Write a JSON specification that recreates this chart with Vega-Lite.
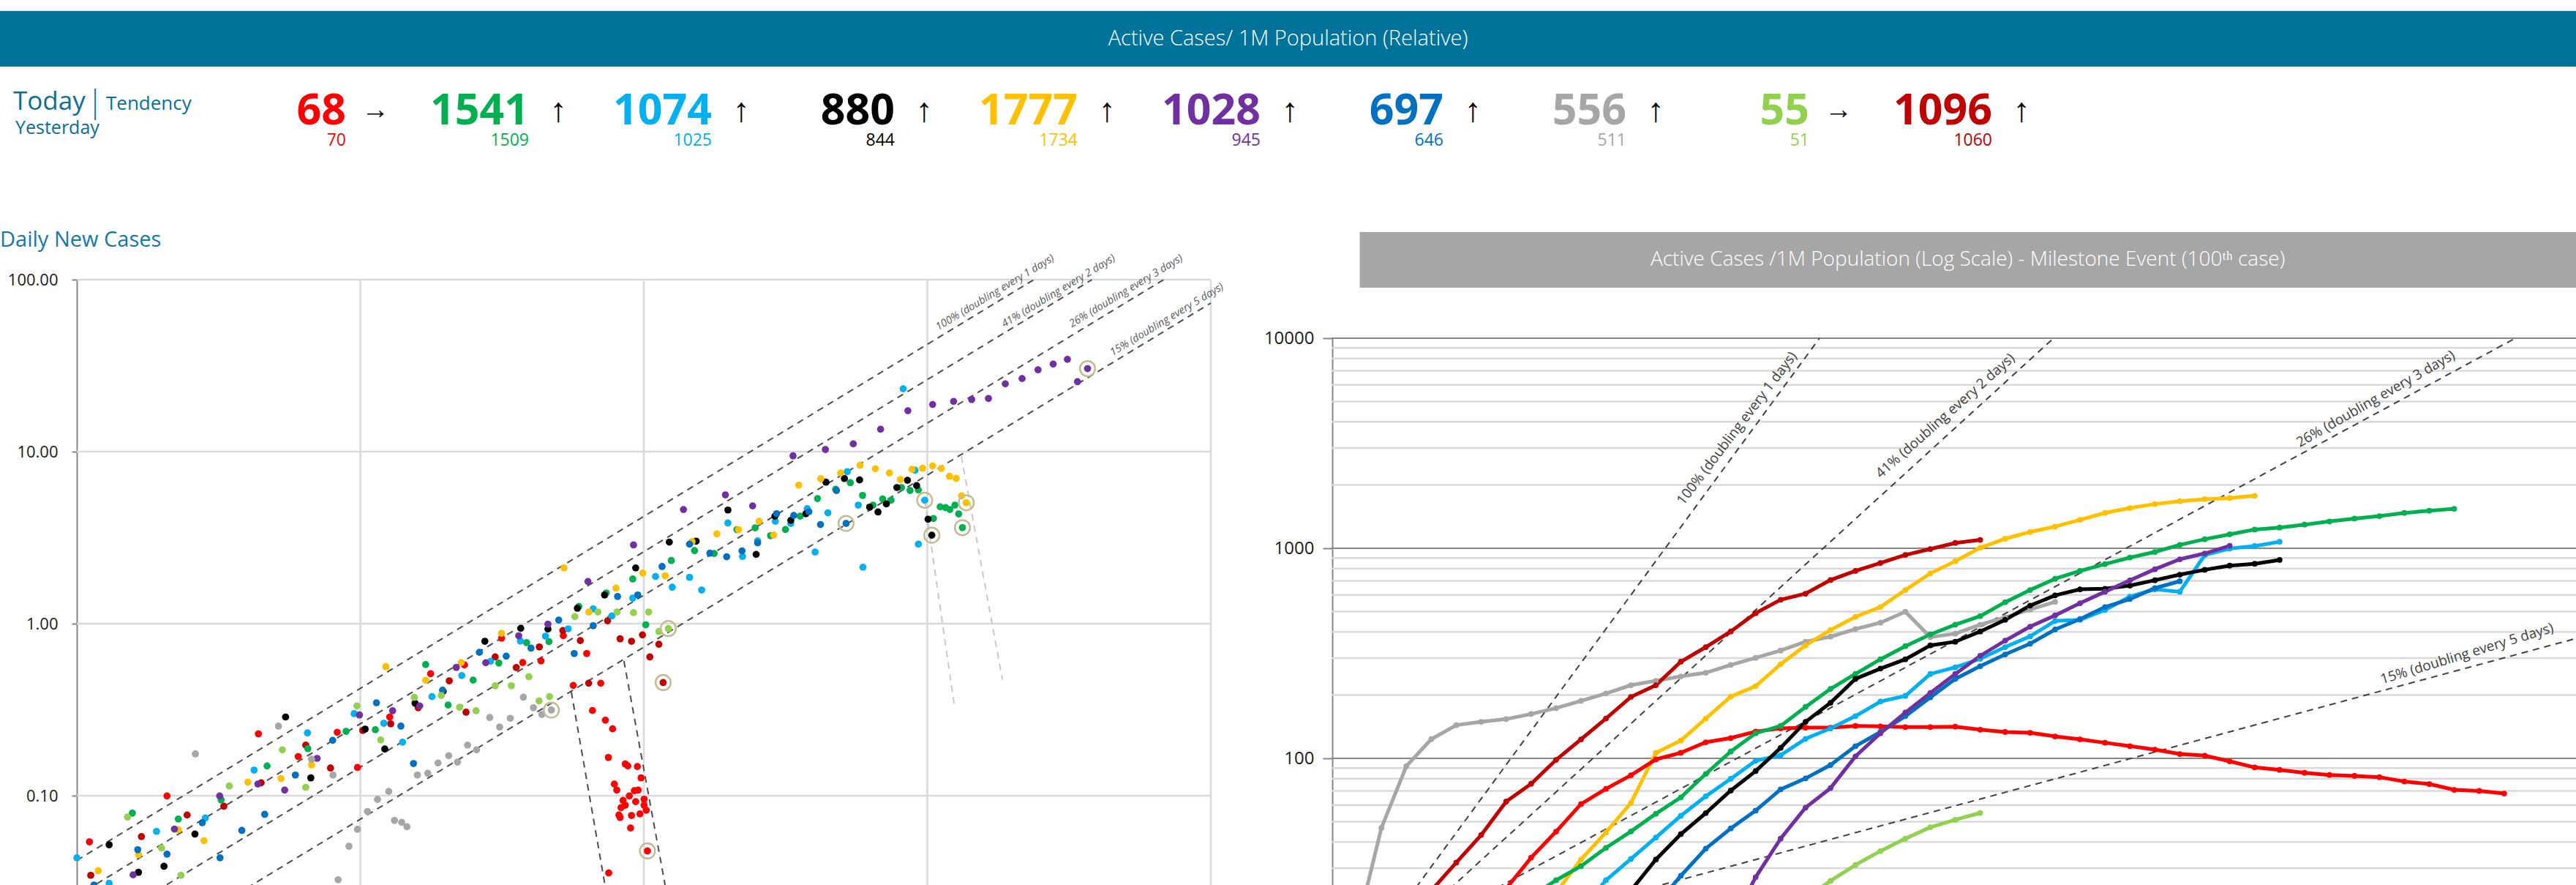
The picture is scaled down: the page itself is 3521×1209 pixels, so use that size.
{
"$schema": "https://vega.github.io/schema/vega-lite/v6.json",
"background": "white",
"padding": {"left": 0, "top": 15, "right": 0, "bottom": 0},
"spacing": 0,
"config": {"view": {"stroke": null}, "font": "Open Sans", "axis": {"grid": false, "labelFont": "Open Sans"}},
"datasets": {
"hdr": [
{"slot":0,"s":"Red","today":68,"yesterday":70,"trend":"flat"},
{"slot":1,"s":"Green","today":1541,"yesterday":1509,"trend":"up"},
{"slot":2,"s":"LightBlue","today":1074,"yesterday":1025,"trend":"up"},
{"slot":3,"s":"Black","today":880,"yesterday":844,"trend":"up"},
{"slot":4,"s":"Yellow","today":1777,"yesterday":1734,"trend":"up"},
{"slot":5,"s":"Purple","today":1028,"yesterday":945,"trend":"up"},
{"slot":6,"s":"Blue","today":697,"yesterday":646,"trend":"up"},
{"slot":7,"s":"Gray","today":556,"yesterday":511,"trend":"up"},
{"slot":8,"s":"LightGreen","today":55,"yesterday":51,"trend":"flat"},
{"slot":9,"s":"DarkRed","today":1096,"yesterday":1060,"trend":"up"}
],
"pts": [
{"s":"Red","x":1.108,"y":0.054},{"s":"Red","x":2.08,"y":0.0997},{"s":"Red","x":4.37,"y":0.229},{"s":"Red","x":6.04,"y":0.169},{"s":"Red","x":8.29,"y":0.234},{"s":"Red","x":9.77,"y":0.146},{"s":"Red","x":12.7,"y":0.287},{"s":"Red","x":17.7,"y":0.512},{"s":"Red","x":23.3,"y":0.576},{"s":"Red","x":31.5,"y":0.824},{"s":"Red","x":37.4,"y":0.595},{"s":"Red","x":43.4,"y":0.608},{"s":"Red","x":52.0,"y":0.852},{"s":"Red","x":56.4,"y":0.438},{"s":"Red","x":62.9,"y":0.671},{"s":"Red","x":70.5,"y":0.451},{"s":"Red","x":65.9,"y":0.313},{"s":"Red","x":73.2,"y":0.275},{"s":"Red","x":77.6,"y":0.245},{"s":"Red","x":75.0,"y":0.167},{"s":"Red","x":86.0,"y":0.153},{"s":"Red","x":87.8,"y":0.149},{"s":"Red","x":94.9,"y":0.148},{"s":"Red","x":97.8,"y":0.127},{"s":"Red","x":78.7,"y":0.117},{"s":"Red","x":80.3,"y":0.108},{"s":"Red","x":92.6,"y":0.107},{"s":"Red","x":95.5,"y":0.108},{"s":"Red","x":88.9,"y":0.0998},{"s":"Red","x":84.5,"y":0.094},{"s":"Red","x":93.6,"y":0.0925},{"s":"Red","x":100.2,"y":0.0955},{"s":"Red","x":86.0,"y":0.0881},{"s":"Red","x":83.1,"y":0.0853},{"s":"Red","x":100.2,"y":0.0881},{"s":"Red","x":102,"y":0.0825},{"s":"Red","x":81.7,"y":0.0773},{"s":"Red","x":82.5,"y":0.0748},{"s":"Red","x":90.5,"y":0.0768},{"s":"Red","x":96.9,"y":0.0785},{"s":"Red","x":89.8,"y":0.065},{"s":"Red","x":75.2,"y":0.0356},{"s":"Red","x":103,"y":0.0478,"latest":1},
{"s":"DarkRed","x":1.12,"y":0.0345},{"s":"DarkRed","x":1.69,"y":0.0579},{"s":"DarkRed","x":2.45,"y":0.0773},{"s":"DarkRed","x":3.30,"y":0.0869},{"s":"DarkRed","x":4.47,"y":0.119},{"s":"DarkRed","x":6.42,"y":0.197},{"s":"DarkRed","x":7.85,"y":0.145},{"s":"DarkRed","x":10.2,"y":0.240},{"s":"DarkRed","x":12.8,"y":0.262},{"s":"DarkRed","x":16.0,"y":0.325},{"s":"DarkRed","x":20.6,"y":0.466},{"s":"DarkRed","x":23.6,"y":0.306},{"s":"DarkRed","x":29.9,"y":0.641},{"s":"DarkRed","x":35.5,"y":0.556},{"s":"DarkRed","x":42.8,"y":0.733},{"s":"DarkRed","x":51.8,"y":0.912},{"s":"DarkRed","x":59.7,"y":0.798},{"s":"DarkRed","x":63.9,"y":0.451},{"s":"DarkRed","x":74.5,"y":1.04},{"s":"DarkRed","x":82.5,"y":0.817},{"s":"DarkRed","x":90.5,"y":0.791},{"s":"DarkRed","x":98.9,"y":0.861},{"s":"DarkRed","x":105,"y":0.641},{"s":"DarkRed","x":113,"y":0.760},{"s":"DarkRed","x":117,"y":0.455,"latest":1},
{"s":"Green","x":1.57,"y":0.0793},{"s":"Green","x":2.28,"y":0.0733},{"s":"Green","x":3.23,"y":0.0946},{"s":"Green","x":4.69,"y":0.149},{"s":"Green","x":6.53,"y":0.188},{"s":"Green","x":8.91,"y":0.237},{"s":"Green","x":11.3,"y":0.242},{"s":"Green","x":17.0,"y":0.579},{"s":"Green","x":20.4,"y":0.337},{"s":"Green","x":25.0,"y":0.470},{"s":"Green","x":30.8,"y":0.591},{"s":"Green","x":38.6,"y":0.776},{"s":"Green","x":46.3,"y":0.786},{"s":"Green","x":59.0,"y":1.26},{"s":"Green","x":73.7,"y":1.51},{"s":"Green","x":101.6,"y":0.986},{"s":"Green","x":91.4,"y":1.82},{"s":"Green","x":125,"y":2.33},{"s":"Green","x":151,"y":2.66},{"s":"Green","x":177,"y":2.56},{"s":"Green","x":213,"y":3.52},{"s":"Green","x":247,"y":3.61},{"s":"Green","x":280,"y":3.25},{"s":"Green","x":316,"y":3.53},{"s":"Green","x":356,"y":4.22},{"s":"Green","x":410,"y":5.34},{"s":"Green","x":475,"y":6.05},{"s":"Green","x":535,"y":6.60},{"s":"Green","x":591,"y":5.57},{"s":"Green","x":643,"y":4.89},{"s":"Green","x":696,"y":5.31},{"s":"Green","x":745,"y":5.22},{"s":"Green","x":811,"y":6.19},{"s":"Green","x":869,"y":5.95},{"s":"Green","x":930,"y":5.99},{"s":"Green","x":1051,"y":4.09},{"s":"Green","x":1110,"y":4.78},{"s":"Green","x":1160,"y":4.73},{"s":"Green","x":1201,"y":4.61},{"s":"Green","x":1251,"y":4.89},{"s":"Green","x":1290,"y":4.35},{"s":"Green","x":1330,"y":3.62,"latest":1},
{"s":"LightBlue","x":1.00,"y":0.0436},{"s":"LightBlue","x":1.30,"y":0.031},{"s":"LightBlue","x":1.91,"y":0.0621},{"s":"LightBlue","x":2.84,"y":0.0743},{"s":"LightBlue","x":4.22,"y":0.141},{"s":"LightBlue","x":6.51,"y":0.232},{"s":"LightBlue","x":9.51,"y":0.300},{"s":"LightBlue","x":12.1,"y":0.264},{"s":"LightBlue","x":14.1,"y":0.205},{"s":"LightBlue","x":17.9,"y":0.377},{"s":"LightBlue","x":22.8,"y":0.500},{"s":"LightBlue","x":28.8,"y":0.605},{"s":"LightBlue","x":36.7,"y":0.793},{"s":"LightBlue","x":45.0,"y":0.847},{"s":"LightBlue","x":54.1,"y":0.934},{"s":"LightBlue","x":66.3,"y":1.22},{"s":"LightBlue","x":77.1,"y":1.11},{"s":"LightBlue","x":91.4,"y":1.41},{"s":"LightBlue","x":110,"y":1.88},{"s":"LightBlue","x":126,"y":1.63},{"s":"LightBlue","x":145,"y":1.86},{"s":"LightBlue","x":160,"y":1.57},{"s":"LightBlue","x":198,"y":3.85},{"s":"LightBlue","x":223,"y":2.46},{"s":"LightBlue","x":252,"y":3.03},{"s":"LightBlue","x":291,"y":3.94},{"s":"LightBlue","x":330,"y":3.83},{"s":"LightBlue","x":402,"y":2.61},{"s":"LightBlue","x":446,"y":4.41},{"s":"LightBlue","x":593,"y":2.13},{"s":"LightBlue","x":930,"y":2.90},{"s":"LightBlue","x":377,"y":4.66},{"s":"LightBlue","x":522,"y":7.65},{"s":"LightBlue","x":571,"y":4.89},{"s":"LightBlue","x":822,"y":23.2},{"s":"LightBlue","x":905,"y":7.80},{"s":"LightBlue","x":979,"y":5.22,"latest":1},
{"s":"Black","x":1.30,"y":0.0519},{"s":"Black","x":1.65,"y":0.0359},{"s":"Black","x":2.03,"y":0.0389},{"s":"Black","x":2.61,"y":0.0599},{"s":"Black","x":5.45,"y":0.287},{"s":"Black","x":6.69,"y":0.127},{"s":"Black","x":10.4,"y":0.244},{"s":"Black","x":12.2,"y":0.187},{"s":"Black","x":15.6,"y":0.345},{"s":"Black","x":19.6,"y":0.405},{"s":"Black","x":27.5,"y":0.791},{"s":"Black","x":36.8,"y":0.940},{"s":"Black","x":45.9,"y":0.931},{"s":"Black","x":58.3,"y":1.23},{"s":"Black","x":72.7,"y":1.47},{"s":"Black","x":93.6,"y":2.11},{"s":"Black","x":123,"y":2.98},{"s":"Black","x":153,"y":3.02},{"s":"Black","x":249,"y":2.53},{"s":"Black","x":290,"y":4.22},{"s":"Black","x":330,"y":3.99},{"s":"Black","x":373,"y":4.36},{"s":"Black","x":198,"y":4.58},{"s":"Black","x":439,"y":6.65},{"s":"Black","x":510,"y":6.98},{"s":"Black","x":577,"y":6.85},{"s":"Black","x":626,"y":4.76},{"s":"Black","x":670,"y":4.46},{"s":"Black","x":717,"y":4.97},{"s":"Black","x":781,"y":6.19},{"s":"Black","x":851,"y":6.82},{"s":"Black","x":917,"y":6.35},{"s":"Black","x":1006,"y":4.05},{"s":"Black","x":1037,"y":3.27,"latest":1},
{"s":"Yellow","x":1.19,"y":0.0367},{"s":"Yellow","x":1.65,"y":0.0455},{"s":"Yellow","x":2.28,"y":0.0635},{"s":"Yellow","x":2.81,"y":0.0548},{"s":"Yellow","x":4.01,"y":0.120},{"s":"Yellow","x":5.25,"y":0.126},{"s":"Yellow","x":6.73,"y":0.151},{"s":"Yellow","x":12.3,"y":0.563},{"s":"Yellow","x":17.0,"y":0.469},{"s":"Yellow","x":22.7,"y":0.595},{"s":"Yellow","x":31.5,"y":0.880},{"s":"Yellow","x":52.3,"y":2.11},{"s":"Yellow","x":64.0,"y":1.17},{"s":"Yellow","x":79.8,"y":1.61},{"s":"Yellow","x":99.2,"y":1.97},{"s":"Yellow","x":119,"y":1.90},{"s":"Yellow","x":148,"y":3.00},{"s":"Yellow","x":181,"y":3.33},{"s":"Yellow","x":216,"y":3.52},{"s":"Yellow","x":255,"y":3.94},{"s":"Yellow","x":287,"y":3.28},{"s":"Yellow","x":352,"y":6.39},{"s":"Yellow","x":421,"y":6.96},{"s":"Yellow","x":495,"y":7.52},{"s":"Yellow","x":579,"y":8.33},{"s":"Yellow","x":656,"y":7.96},{"s":"Yellow","x":735,"y":7.52},{"s":"Yellow","x":803,"y":6.89},{"s":"Yellow","x":883,"y":7.90},{"s":"Yellow","x":962,"y":8.01},{"s":"Yellow","x":1044,"y":8.25},{"s":"Yellow","x":1121,"y":7.98},{"s":"Yellow","x":1197,"y":7.19},{"s":"Yellow","x":1264,"y":7.00},{"s":"Yellow","x":1321,"y":5.54},{"s":"Yellow","x":1372,"y":5.05,"latest":1},
{"s":"Purple","x":1.58,"y":0.0347},{"s":"Purple","x":2.21,"y":0.064},{"s":"Purple","x":3.19,"y":0.0997},{"s":"Purple","x":4.35,"y":0.117},{"s":"Purple","x":5.41,"y":0.108},{"s":"Purple","x":7.04,"y":0.165},{"s":"Purple","x":9.93,"y":0.295},{"s":"Purple","x":13.0,"y":0.312},{"s":"Purple","x":16.2,"y":0.333},{"s":"Purple","x":21.8,"y":0.557},{"s":"Purple","x":27.7,"y":0.593},{"s":"Purple","x":36.2,"y":0.851},{"s":"Purple","x":45.9,"y":0.994},{"s":"Purple","x":63.5,"y":1.76},{"s":"Purple","x":92.0,"y":2.87},{"s":"Purple","x":138,"y":4.61},{"s":"Purple","x":194,"y":5.61},{"s":"Purple","x":242,"y":4.84},{"s":"Purple","x":336,"y":9.46},{"s":"Purple","x":437,"y":10.3},{"s":"Purple","x":548,"y":11.1},{"s":"Purple","x":684,"y":13.5},{"s":"Purple","x":854,"y":17.3},{"s":"Purple","x":1044,"y":18.8},{"s":"Purple","x":1238,"y":19.6},{"s":"Purple","x":1434,"y":20.1},{"s":"Purple","x":1643,"y":20.4},{"s":"Purple","x":1884,"y":24.8},{"s":"Purple","x":2159,"y":26.6},{"s":"Purple","x":2458,"y":29.9},{"s":"Purple","x":2779,"y":32.3},{"s":"Purple","x":3120,"y":34.4},{"s":"Purple","x":3387,"y":25.5},{"s":"Purple","x":3675,"y":30.4,"latest":1},
{"s":"Blue","x":1.15,"y":0.0303},{"s":"Blue","x":1.64,"y":0.0486},{"s":"Blue","x":2.08,"y":0.0458},{"s":"Blue","x":2.77,"y":0.0697},{"s":"Blue","x":3.20,"y":0.0436},{"s":"Blue","x":3.82,"y":0.0629},{"s":"Blue","x":4.60,"y":0.078},{"s":"Blue","x":5.90,"y":0.132},{"s":"Blue","x":7.99,"y":0.210},{"s":"Blue","x":11.4,"y":0.347},{"s":"Blue","x":13.9,"y":0.254},{"s":"Blue","x":15.4,"y":0.154},{"s":"Blue","x":19.5,"y":0.411},{"s":"Blue","x":26.3,"y":0.682},{"s":"Blue","x":32.7,"y":0.648},{"s":"Blue","x":40.0,"y":0.721},{"s":"Blue","x":50.1,"y":1.05},{"s":"Blue","x":56.8,"y":0.671},{"s":"Blue","x":66.3,"y":0.974},{"s":"Blue","x":80.8,"y":1.44},{"s":"Blue","x":95.2,"y":1.47},{"s":"Blue","x":116,"y":2.15},{"s":"Blue","x":145,"y":2.90},{"s":"Blue","x":171,"y":2.57},{"s":"Blue","x":196,"y":2.45},{"s":"Blue","x":222,"y":2.65},{"s":"Blue","x":252,"y":2.95},{"s":"Blue","x":294,"y":4.36},{"s":"Blue","x":338,"y":4.26},{"s":"Blue","x":382,"y":4.48},{"s":"Blue","x":420,"y":3.77},{"s":"Blue","x":478,"y":5.95},{"s":"Blue","x":517,"y":3.83,"latest":1},
{"s":"Gray","x":2.62,"y":0.175},{"s":"Gray","x":5.14,"y":0.254},{"s":"Gray","x":6.73,"y":0.163},{"s":"Gray","x":8.01,"y":0.132},{"s":"Gray","x":8.35,"y":0.0325},{"s":"Gray","x":9.12,"y":0.0509},{"s":"Gray","x":9.77,"y":0.0639},{"s":"Gray","x":10.6,"y":0.0811},{"s":"Gray","x":11.5,"y":0.0952},{"s":"Gray","x":12.6,"y":0.106},{"s":"Gray","x":13.2,"y":0.0719},{"s":"Gray","x":14.0,"y":0.0701},{"s":"Gray","x":14.6,"y":0.0661},{"s":"Gray","x":15.9,"y":0.132},{"s":"Gray","x":17.3,"y":0.135},{"s":"Gray","x":18.8,"y":0.155},{"s":"Gray","x":20.5,"y":0.171},{"s":"Gray","x":22.0,"y":0.157},{"s":"Gray","x":23.9,"y":0.197},{"s":"Gray","x":25.7,"y":0.185},{"s":"Gray","x":28.6,"y":0.285},{"s":"Gray","x":31.0,"y":0.251},{"s":"Gray","x":33.8,"y":0.282},{"s":"Gray","x":37.6,"y":0.374},{"s":"Gray","x":40.8,"y":0.325},{"s":"Gray","x":43.7,"y":0.297},{"s":"Gray","x":47.2,"y":0.315,"latest":1},
{"s":"LightGreen","x":1.51,"y":0.0752},{"s":"LightGreen","x":1.99,"y":0.0497},{"s":"LightGreen","x":2.33,"y":0.0345},{"s":"LightGreen","x":3.45,"y":0.114},{"s":"LightGreen","x":5.31,"y":0.185},{"s":"LightGreen","x":6.42,"y":0.112},{"s":"LightGreen","x":9.73,"y":0.333},{"s":"LightGreen","x":11.8,"y":0.211},{"s":"LightGreen","x":15.5,"y":0.373},{"s":"LightGreen","x":19.3,"y":0.383},{"s":"LightGreen","x":22.4,"y":0.327},{"s":"LightGreen","x":25.6,"y":0.312},{"s":"LightGreen","x":29.9,"y":0.436},{"s":"LightGreen","x":34.1,"y":0.436},{"s":"LightGreen","x":39.3,"y":0.492},{"s":"LightGreen","x":42.7,"y":0.356},{"s":"LightGreen","x":46.5,"y":0.377},{"s":"LightGreen","x":57.1,"y":1.10},{"s":"LightGreen","x":68.9,"y":1.17},{"s":"LightGreen","x":80.5,"y":1.17},{"s":"LightGreen","x":92.0,"y":1.16},{"s":"LightGreen","x":104,"y":1.17},{"s":"LightGreen","x":113,"y":0.901},{"s":"LightGreen","x":122,"y":0.937,"latest":1}
],
"act": [
{"s":"Gray","d":1,"v":15.2},{"s":"Gray","d":2,"v":46.7},{"s":"Gray","d":3,"v":91.8},{"s":"Gray","d":4,"v":123.5},{"s":"Gray","d":5,"v":143.9},{"s":"Gray","d":6,"v":149.3},{"s":"Gray","d":7,"v":153.8},{"s":"Gray","d":8,"v":162.7},{"s":"Gray","d":9,"v":173.4},{"s":"Gray","d":10,"v":187.9},{"s":"Gray","d":11,"v":203.7},{"s":"Gray","d":12,"v":223},{"s":"Gray","d":13,"v":234},{"s":"Gray","d":14,"v":245.6},{"s":"Gray","d":15,"v":255.6},{"s":"Gray","d":16,"v":278.5},{"s":"Gray","d":17,"v":300.9},{"s":"Gray","d":18,"v":326.1},{"s":"Gray","d":19,"v":359},{"s":"Gray","d":20,"v":379.7},{"s":"Gray","d":21,"v":412.6},{"s":"Gray","d":22,"v":442.3},{"s":"Gray","d":23,"v":498.9},{"s":"Gray","d":24,"v":377.7},{"s":"Gray","d":25,"v":392.2},{"s":"Gray","d":26,"v":433},{"s":"Gray","d":27,"v":469},{"s":"Gray","d":28,"v":511},{"s":"Gray","d":29,"v":556},
{"s":"DarkRed","d":4,"v":23.5},{"s":"DarkRed","d":5,"v":31.9},{"s":"DarkRed","d":6,"v":43.2},{"s":"DarkRed","d":7,"v":62.3},{"s":"DarkRed","d":8,"v":75.7},{"s":"DarkRed","d":9,"v":98.4},{"s":"DarkRed","d":10,"v":123.2},{"s":"DarkRed","d":11,"v":154.7},{"s":"DarkRed","d":12,"v":196.2},{"s":"DarkRed","d":13,"v":223},{"s":"DarkRed","d":14,"v":288.4},{"s":"DarkRed","d":15,"v":338.5},{"s":"DarkRed","d":16,"v":401.8},{"s":"DarkRed","d":17,"v":491},{"s":"DarkRed","d":18,"v":568.7},{"s":"DarkRed","d":19,"v":608},{"s":"DarkRed","d":20,"v":706},{"s":"DarkRed","d":21,"v":780},{"s":"DarkRed","d":22,"v":851.6},{"s":"DarkRed","d":23,"v":930},{"s":"DarkRed","d":24,"v":992},{"s":"DarkRed","d":25,"v":1060},{"s":"DarkRed","d":26,"v":1096},
{"s":"Yellow","d":9,"v":23},{"s":"Yellow","d":10,"v":33},{"s":"Yellow","d":11,"v":44.4},{"s":"Yellow","d":12,"v":61.4},{"s":"Yellow","d":13,"v":106.3},{"s":"Yellow","d":14,"v":121.6},{"s":"Yellow","d":15,"v":154.7},{"s":"Yellow","d":16,"v":196.7},{"s":"Yellow","d":17,"v":220.7},{"s":"Yellow","d":18,"v":280.8},{"s":"Yellow","d":19,"v":344.9},{"s":"Yellow","d":20,"v":408.3},{"s":"Yellow","d":21,"v":471.6},{"s":"Yellow","d":22,"v":525},{"s":"Yellow","d":23,"v":633},{"s":"Yellow","d":24,"v":759},{"s":"Yellow","d":25,"v":868},{"s":"Yellow","d":26,"v":1005},{"s":"Yellow","d":27,"v":1110},{"s":"Yellow","d":28,"v":1196},{"s":"Yellow","d":29,"v":1268},{"s":"Yellow","d":30,"v":1367},{"s":"Yellow","d":31,"v":1473},{"s":"Yellow","d":32,"v":1554},{"s":"Yellow","d":33,"v":1623},{"s":"Yellow","d":34,"v":1675},{"s":"Yellow","d":35,"v":1712},{"s":"Yellow","d":36,"v":1734},{"s":"Yellow","d":37,"v":1777},
{"s":"Red","d":7,"v":24},{"s":"Red","d":8,"v":33.7},{"s":"Red","d":9,"v":44.8},{"s":"Red","d":10,"v":60.6},{"s":"Red","d":11,"v":71.6},{"s":"Red","d":12,"v":83.1},{"s":"Red","d":13,"v":98.9},{"s":"Red","d":14,"v":106.3},{"s":"Red","d":15,"v":119.3},{"s":"Red","d":16,"v":124.9},{"s":"Red","d":17,"v":134.2},{"s":"Red","d":18,"v":138.9},{"s":"Red","d":19,"v":140},{"s":"Red","d":20,"v":140},{"s":"Red","d":21,"v":142.7},{"s":"Red","d":22,"v":142},{"s":"Red","d":23,"v":140.8},{"s":"Red","d":24,"v":140.8},{"s":"Red","d":25,"v":141.6},{"s":"Red","d":26,"v":137},{"s":"Red","d":27,"v":133.5},{"s":"Red","d":28,"v":132.4},{"s":"Red","d":29,"v":127.2},{"s":"Red","d":30,"v":123.2},{"s":"Red","d":31,"v":118.7},{"s":"Red","d":32,"v":114.3},{"s":"Red","d":33,"v":110.1},{"s":"Red","d":34,"v":104.9},{"s":"Red","d":35,"v":103},{"s":"Red","d":36,"v":96.8},{"s":"Red","d":37,"v":90.6},{"s":"Red","d":38,"v":88.2},{"s":"Red","d":39,"v":85.4},{"s":"Red","d":40,"v":83.4},{"s":"Red","d":41,"v":82.5},{"s":"Red","d":42,"v":81.4},{"s":"Red","d":43,"v":77.6},{"s":"Red","d":44,"v":75.5},{"s":"Red","d":45,"v":70.8},{"s":"Red","d":46,"v":70},{"s":"Red","d":47,"v":68},
{"s":"Green","d":8,"v":22},{"s":"Green","d":9,"v":26.3},{"s":"Green","d":10,"v":30.7},{"s":"Green","d":11,"v":37.5},{"s":"Green","d":12,"v":44.9},{"s":"Green","d":13,"v":54.5},{"s":"Green","d":14,"v":65.2},{"s":"Green","d":15,"v":84.3},{"s":"Green","d":16,"v":107.8},{"s":"Green","d":17,"v":131.7},{"s":"Green","d":18,"v":142.7},{"s":"Green","d":19,"v":175.8},{"s":"Green","d":20,"v":214.3},{"s":"Green","d":21,"v":252.3},{"s":"Green","d":22,"v":296.1},{"s":"Green","d":23,"v":342.1},{"s":"Green","d":24,"v":389},{"s":"Green","d":25,"v":433},{"s":"Green","d":26,"v":475.4},{"s":"Green","d":27,"v":553.7},{"s":"Green","d":28,"v":633},{"s":"Green","d":29,"v":715.8},{"s":"Green","d":30,"v":780},{"s":"Green","d":31,"v":840.4},{"s":"Green","d":32,"v":903},{"s":"Green","d":33,"v":960.5},{"s":"Green","d":34,"v":1037.9},{"s":"Green","d":35,"v":1104},{"s":"Green","d":36,"v":1165},{"s":"Green","d":37,"v":1228},{"s":"Green","d":38,"v":1255},{"s":"Green","d":39,"v":1296},{"s":"Green","d":40,"v":1342},{"s":"Green","d":41,"v":1385},{"s":"Green","d":42,"v":1423},{"s":"Green","d":43,"v":1473},{"s":"Green","d":44,"v":1509},{"s":"Green","d":45,"v":1541},
{"s":"LightBlue","d":10,"v":19},{"s":"LightBlue","d":11,"v":26.3},{"s":"LightBlue","d":12,"v":33.2},{"s":"LightBlue","d":13,"v":42},{"s":"LightBlue","d":14,"v":53.3},{"s":"LightBlue","d":15,"v":66},{"s":"LightBlue","d":16,"v":79.9},{"s":"LightBlue","d":17,"v":97.4},{"s":"LightBlue","d":18,"v":103.5},{"s":"LightBlue","d":19,"v":123.9},{"s":"LightBlue","d":20,"v":138.9},{"s":"LightBlue","d":21,"v":158.8},{"s":"LightBlue","d":22,"v":186.5},{"s":"LightBlue","d":23,"v":198.3},{"s":"LightBlue","d":24,"v":252.3},{"s":"LightBlue","d":25,"v":271.2},{"s":"LightBlue","d":26,"v":297.7},{"s":"LightBlue","d":27,"v":338.5},{"s":"LightBlue","d":28,"v":380.7},{"s":"LightBlue","d":29,"v":450.7},{"s":"LightBlue","d":30,"v":456.7},{"s":"LightBlue","d":31,"v":508.3},{"s":"LightBlue","d":32,"v":588.8},{"s":"LightBlue","d":33,"v":638},{"s":"LightBlue","d":34,"v":621},{"s":"LightBlue","d":35,"v":927.7},{"s":"LightBlue","d":36,"v":997},{"s":"LightBlue","d":37,"v":1025},{"s":"LightBlue","d":38,"v":1074},
{"s":"Black","d":12,"v":23.5},{"s":"Black","d":13,"v":33},{"s":"Black","d":14,"v":43.6},{"s":"Black","d":15,"v":54.9},{"s":"Black","d":16,"v":70.3},{"s":"Black","d":17,"v":87},{"s":"Black","d":18,"v":112.2},{"s":"Black","d":19,"v":149.3},{"s":"Black","d":20,"v":184},{"s":"Black","d":21,"v":239},{"s":"Black","d":22,"v":267.6},{"s":"Black","d":23,"v":296.1},{"s":"Black","d":24,"v":344.9},{"s":"Black","d":25,"v":359},{"s":"Black","d":26,"v":401.7},{"s":"Black","d":27,"v":456.7},{"s":"Black","d":28,"v":533.4},{"s":"Black","d":29,"v":596.9},{"s":"Black","d":30,"v":638},{"s":"Black","d":31,"v":641.6},{"s":"Black","d":32,"v":664},{"s":"Black","d":33,"v":704.4},{"s":"Black","d":34,"v":749},{"s":"Black","d":35,"v":790},{"s":"Black","d":36,"v":827},{"s":"Black","d":37,"v":844},{"s":"Black","d":38,"v":880},
{"s":"Blue","d":13,"v":20},{"s":"Blue","d":14,"v":27.6},{"s":"Blue","d":15,"v":37.2},{"s":"Blue","d":16,"v":46.4},{"s":"Blue","d":17,"v":56.4},{"s":"Blue","d":18,"v":71.2},{"s":"Blue","d":19,"v":80.3},{"s":"Blue","d":20,"v":93},{"s":"Blue","d":21,"v":114.3},{"s":"Blue","d":22,"v":133.5},{"s":"Blue","d":23,"v":158.8},{"s":"Blue","d":24,"v":195.1},{"s":"Blue","d":25,"v":239},{"s":"Blue","d":26,"v":274.8},{"s":"Blue","d":27,"v":312.4},{"s":"Blue","d":28,"v":351.4},{"s":"Blue","d":29,"v":410.5},{"s":"Blue","d":30,"v":460.4},{"s":"Blue","d":31,"v":525},{"s":"Blue","d":32,"v":573.4},{"s":"Blue","d":33,"v":646},{"s":"Blue","d":34,"v":697},
{"s":"Purple","d":16,"v":16},{"s":"Purple","d":17,"v":27.2},{"s":"Purple","d":18,"v":41.5},{"s":"Purple","d":19,"v":58.3},{"s":"Purple","d":20,"v":72.2},{"s":"Purple","d":21,"v":102.2},{"s":"Purple","d":22,"v":131.7},{"s":"Purple","d":23,"v":165.3},{"s":"Purple","d":24,"v":204.8},{"s":"Purple","d":25,"v":252.3},{"s":"Purple","d":26,"v":307.5},{"s":"Purple","d":27,"v":363.8},{"s":"Purple","d":28,"v":423.8},{"s":"Purple","d":29,"v":479.3},{"s":"Purple","d":30,"v":547.7},{"s":"Purple","d":31,"v":621},{"s":"Purple","d":32,"v":704},{"s":"Purple","d":33,"v":794.5},{"s":"Purple","d":34,"v":886.6},{"s":"Purple","d":35,"v":945},{"s":"Purple","d":36,"v":1028},
{"s":"LightGreen","d":19,"v":21.5},{"s":"LightGreen","d":20,"v":26.1},{"s":"LightGreen","d":21,"v":31.1},{"s":"LightGreen","d":22,"v":36.2},{"s":"LightGreen","d":23,"v":41.5},{"s":"LightGreen","d":24,"v":47},{"s":"LightGreen","d":25,"v":51},{"s":"LightGreen","d":26,"v":55}
]
},
"vconcat": [
{
"width": 3521, "height": 76,
"view": {"fill": "#00739A", "stroke": null},
"data": {"values": [{"t": "Active Cases/ 1M Population (Relative)"}]},
"mark": {"type": "text", "color": "white", "fontSize": 29, "fontWeight": 300, "font": "Open Sans", "baseline": "middle"},
"encoding": {"text": {"field": "t", "type": "nominal"}}
},
{
"width": 3521, "height": 139,
"layer": [
{"data": {"name": "hdr"},
 "mark": {"type": "text", "align": "right", "baseline": "alphabetic", "dy": 9.5, "fontSize": 59, "fontWeight": "bold", "font": "Open Sans"},
 "encoding": {"x": {"field": "slot", "type": "quantitative", "scale": {"domain": [-1.892, 12.192], "nice": false, "zero": false}, "axis": null},
   "text": {"field": "today", "type": "quantitative", "format": "d"},
   "color": {"field": "s", "type": "nominal", "legend": null, "scale": {"domain": ["Red","Green","LightBlue","Black","Yellow","Purple","Blue","Gray","LightGreen","DarkRed"], "range": ["#FF0000","#00B050","#00B0F0","#000000","#FFC000","#7030A0","#0070C0","#A6A6A6","#92D050","#C00000"]}}}},
{"data": {"name": "hdr"},
 "mark": {"type": "text", "align": "right", "baseline": "alphabetic", "dy": 38, "fontSize": 23, "font": "Open Sans"},
 "encoding": {"x": {"field": "slot", "type": "quantitative", "scale": {"domain": [-1.892, 12.192], "nice": false, "zero": false}, "axis": null},
   "text": {"field": "yesterday", "type": "quantitative", "format": "d"},
   "color": {"field": "s", "type": "nominal", "legend": null}}},
{"data": {"name": "hdr"},
 "transform": [{"filter": "datum.trend == 'up'"}],
 "mark": {"type": "text", "text": "↑", "dx": 40, "dy": -9, "baseline": "middle", "fontSize": 46, "font": "Liberation Sans", "color": "#000000"},
 "encoding": {"x": {"field": "slot", "type": "quantitative", "scale": {"domain": [-1.892, 12.192], "nice": false, "zero": false}, "axis": null}}},
{"data": {"name": "hdr"},
 "transform": [{"filter": "datum.trend == 'flat'"}],
 "mark": {"type": "text", "text": "→", "dx": 40, "dy": -10, "baseline": "middle", "fontSize": 38, "fontWeight": "bold", "font": "Liberation Sans", "color": "#000000"},
 "encoding": {"x": {"field": "slot", "type": "quantitative", "scale": {"domain": [-1.892, 12.192], "nice": false, "zero": false}, "axis": null}}},
{"data": {"values": [{}]},
 "mark": {"type": "text", "text": "Today", "align": "left", "baseline": "alphabetic", "dy": -10.5, "fontSize": 35, "color": "#0B6F93", "font": "Open Sans"},
 "encoding": {"x": {"datum": -1.82, "type": "quantitative", "scale": {"domain": [-1.892, 12.192], "nice": false, "zero": false}, "axis": null}}},
{"data": {"values": [{}]},
 "mark": {"type": "text", "text": "|", "align": "center", "baseline": "alphabetic", "dy": -7, "fontSize": 42, "fontWeight": 300, "color": "#0B6F93", "font": "Open Sans"},
 "encoding": {"x": {"datum": -1.372, "type": "quantitative", "scale": {"domain": [-1.892, 12.192], "nice": false, "zero": false}, "axis": null}}},
{"data": {"values": [{}]},
 "mark": {"type": "text", "text": "Tendency", "align": "left", "baseline": "alphabetic", "dy": -10.5, "fontSize": 26, "color": "#0B6F93", "font": "Open Sans"},
 "encoding": {"x": {"datum": -1.312, "type": "quantitative", "scale": {"domain": [-1.892, 12.192], "nice": false, "zero": false}, "axis": null}}},
{"data": {"values": [{}]},
 "mark": {"type": "text", "text": "Yesterday", "align": "left", "baseline": "alphabetic", "dy": 22.5, "fontSize": 25, "color": "#0B6F93", "font": "Open Sans"},
 "encoding": {"x": {"datum": -1.808, "type": "quantitative", "scale": {"domain": [-1.892, 12.192], "nice": false, "zero": false}, "axis": null}}}
]
},
{
"width": 3521, "height": 979,
"resolve": {"scale": {"x": "independent", "y": "independent"}},
"layer": [
{"data": {"values": [{"g": 0.1}, {"g": 1}, {"g": 10}, {"g": 100}]},
 "mark": {"type": "rule", "color": "#D9D9D9", "strokeWidth": 2.5},
 "encoding": {
  "y": {"field": "g", "type": "quantitative", "scale": {"type": "log", "domain": [0.0303, 100], "range": [979, 152], "nice": false},
        "axis": {"orient": "left", "offset": -105, "values": [0.1, 1, 10, 100], "format": ".2f", "labelFontSize": 22, "labelColor": "#1A1A1A", "labelPadding": 19, "tickSize": 7, "tickColor": "#868686", "tickWidth": 2, "domainColor": "#868686", "domainWidth": 2, "title": null, "grid": false}},
  "x": {"datum": 1, "type": "quantitative", "scale": {"type": "log", "domain": [1, 10000], "range": [105, 1655], "nice": false}, "axis": null},
  "x2": {"datum": 10000}}},
{"data": {"values": [{"g": 10}, {"g": 100}, {"g": 1000}, {"g": 10000}]},
 "mark": {"type": "rule", "color": "#D9D9D9", "strokeWidth": 2.5},
 "encoding": {
  "x": {"field": "g", "type": "quantitative", "scale": {"type": "log", "domain": [1, 10000], "range": [105, 1655], "nice": false}, "axis": null},
  "y": {"datum": 0.0303, "type": "quantitative", "scale": {"type": "log", "domain": [0.0303, 100], "range": [979, 152], "nice": false}, "axis": null},
  "y2": {"datum": 100}}},
{"data": {"values": [
  {"g": "D1", "x": 1, "y": 0.0421}, {"g": "D1", "x": 2377, "y": 100},
  {"g": "D2", "x": 1, "y": 0.0262}, {"g": "D2", "x": 3811, "y": 100},
  {"g": "D3", "x": 1, "y": 0.01466}, {"g": "D3", "x": 6823, "y": 100},
  {"g": "D4", "x": 1, "y": 0.00731}, {"g": "D4", "x": 10000, "y": 73.1},
  {"g": "S1", "x": 55.5, "y": 0.402}, {"g": "S1", "x": 82, "y": 0.01},
  {"g": "S2", "x": 85.1, "y": 0.607}, {"g": "S2", "x": 134.5, "y": 0.01}]},
 "mark": {"type": "line", "color": "#4D4D4D", "strokeWidth": 2, "strokeDash": [9, 7], "clip": true},
 "encoding": {
  "x": {"field": "x", "type": "quantitative", "scale": {"type": "log", "domain": [1, 10000], "range": [105, 1655], "nice": false}, "axis": null},
  "y": {"field": "y", "type": "quantitative", "scale": {"type": "log", "domain": [0.0303, 100], "range": [979, 152], "nice": false}, "axis": null},
  "detail": {"field": "g", "type": "nominal"}}},
{"data": {"values": [
  {"g": "G1", "x": 979, "y": 5.24}, {"g": "G1", "x": 1250, "y": 0.321},
  {"g": "G2", "x": 1318, "y": 9.4}, {"g": "G2", "x": 1840, "y": 0.473}]},
 "mark": {"type": "line", "color": "#C8C8C8", "strokeWidth": 2, "strokeDash": [9, 7], "clip": true},
 "encoding": {
  "x": {"field": "x", "type": "quantitative", "scale": {"type": "log", "domain": [1, 10000], "range": [105, 1655], "nice": false}, "axis": null},
  "y": {"field": "y", "type": "quantitative", "scale": {"type": "log", "domain": [0.0303, 100], "range": [979, 152], "nice": false}, "axis": null},
  "detail": {"field": "g", "type": "nominal"}}},
{"data": {"name": "pts"},
 "mark": {"type": "circle", "size": 95, "opacity": 1, "clip": true},
 "encoding": {
  "x": {"field": "x", "type": "quantitative", "scale": {"type": "log", "domain": [1, 10000], "range": [105, 1655], "nice": false}, "axis": null},
  "y": {"field": "y", "type": "quantitative", "scale": {"type": "log", "domain": [0.0303, 100], "range": [979, 152], "nice": false}, "axis": null},
  "color": {"field": "s", "type": "nominal", "legend": null}}},
{"data": {"name": "pts"},
 "transform": [{"filter": "datum.latest == 1"}],
 "mark": {"type": "point", "shape": "circle", "filled": false, "size": 430, "color": "#C4BB93", "strokeWidth": 2.5, "opacity": 1, "clip": true},
 "encoding": {
  "x": {"field": "x", "type": "quantitative", "scale": {"type": "log", "domain": [1, 10000], "range": [105, 1655], "nice": false}, "axis": null},
  "y": {"field": "y", "type": "quantitative", "scale": {"type": "log", "domain": [0.0303, 100], "range": [979, 152], "nice": false}, "axis": null}}},
{"data": {"values": [{}]},
 "mark": {"type": "text", "text": "100% (doubling every 1 days)", "angle": -31.2, "fontSize": 14.5, "fontStyle": "italic", "color": "#595959", "baseline": "middle"},
 "encoding": {"x": {"datum": 1734, "type": "quantitative", "scale": {"type": "log", "domain": [1, 10000], "range": [105, 1655], "nice": false}, "axis": null}, "y": {"datum": 83.8, "type": "quantitative", "scale": {"type": "log", "domain": [0.0303, 100], "range": [979, 152], "nice": false}, "axis": null}}},
{"data": {"values": [{}]},
 "mark": {"type": "text", "text": "41% (doubling every 2 days)", "angle": -31.2, "fontSize": 14.5, "fontStyle": "italic", "color": "#595959", "baseline": "middle"},
 "encoding": {"x": {"datum": 2904, "type": "quantitative", "scale": {"type": "log", "domain": [1, 10000], "range": [105, 1655], "nice": false}, "axis": null}, "y": {"datum": 85.5, "type": "quantitative", "scale": {"type": "log", "domain": [0.0303, 100], "range": [979, 152], "nice": false}, "axis": null}}},
{"data": {"values": [{}]},
 "mark": {"type": "text", "text": "26% (doubling every 3 days)", "angle": -31.2, "fontSize": 14.5, "fontStyle": "italic", "color": "#595959", "baseline": "middle"},
 "encoding": {"x": {"datum": 5023, "type": "quantitative", "scale": {"type": "log", "domain": [1, 10000], "range": [105, 1655], "nice": false}, "axis": null}, "y": {"datum": 85.5, "type": "quantitative", "scale": {"type": "log", "domain": [0.0303, 100], "range": [979, 152], "nice": false}, "axis": null}}},
{"data": {"values": [{}]},
 "mark": {"type": "text", "text": "15% (doubling every 5 days)", "angle": -31.2, "fontSize": 14.5, "fontStyle": "italic", "color": "#595959", "baseline": "middle"},
 "encoding": {"x": {"datum": 7000, "type": "quantitative", "scale": {"type": "log", "domain": [1, 10000], "range": [105, 1655], "nice": false}, "axis": null}, "y": {"datum": 58.4, "type": "quantitative", "scale": {"type": "log", "domain": [0.0303, 100], "range": [979, 152], "nice": false}, "axis": null}}},
{"data": {"values": [{}]},
 "mark": {"type": "text", "text": "Daily New Cases", "align": "left", "baseline": "alphabetic", "fontSize": 29, "color": "#1479A1", "font": "Open Sans"},
 "encoding": {"x": {"datum": 0.536, "type": "quantitative", "scale": {"type": "log", "domain": [1, 10000], "range": [105, 1655], "nice": false}, "axis": null}, "y": {"datum": 155, "type": "quantitative", "scale": {"type": "log", "domain": [0.0303, 100], "range": [979, 152], "nice": false}, "axis": null}}},
{"data": {"values": [{"g": 30}, {"g": 40}, {"g": 50}, {"g": 60}, {"g": 70}, {"g": 80}, {"g": 90}, {"g": 200}, {"g": 300}, {"g": 400}, {"g": 500}, {"g": 600}, {"g": 700}, {"g": 800}, {"g": 900}, {"g": 2000}, {"g": 3000}, {"g": 4000}, {"g": 5000}, {"g": 6000}, {"g": 7000}, {"g": 8000}, {"g": 9000}]},
 "mark": {"type": "rule", "color": "#D9D9D9", "strokeWidth": 2.5},
 "encoding": {
  "y": {"field": "g", "type": "quantitative", "scale": {"type": "log", "domain": [24.96, 10000], "range": [979, 232], "nice": false}, "axis": null},
  "x": {"datum": 0, "type": "quantitative", "scale": {"type": "linear", "domain": [0, 49.88], "range": [1820, 3521], "nice": false, "zero": false}, "axis": null},
  "x2": {"datum": 49.88}}},
{"data": {"values": [{"g": 100}, {"g": 1000}, {"g": 10000}]},
 "mark": {"type": "rule", "color": "#878787", "strokeWidth": 2},
 "encoding": {
  "y": {"field": "g", "type": "quantitative", "scale": {"type": "log", "domain": [24.96, 10000], "range": [979, 232], "nice": false},
        "axis": {"orient": "left", "offset": -1821, "values": [100, 1000, 10000], "format": "d", "labelFontSize": 24, "labelColor": "#1A1A1A", "labelPadding": 12, "tickSize": 13, "tickColor": "#878787", "tickWidth": 2, "domainColor": "#878787", "domainWidth": 2, "title": null, "grid": false}},
  "x": {"datum": 0, "type": "quantitative", "scale": {"type": "linear", "domain": [0, 49.88], "range": [1820, 3521], "nice": false, "zero": false}, "axis": null},
  "x2": {"datum": 49.88}}},
{"data": {"values": [{}]},
 "mark": {"type": "rect", "color": "#A6A6A6"},
 "encoding": {
  "x": {"datum": 1.13, "type": "quantitative", "scale": {"type": "linear", "domain": [0, 49.88], "range": [1820, 3521], "nice": false, "zero": false}, "axis": null}, "x2": {"datum": 49.88},
  "y": {"datum": 32000, "type": "quantitative", "scale": {"type": "log", "domain": [24.96, 10000], "range": [979, 232], "nice": false}, "axis": null}, "y2": {"datum": 17400}}},
{"data": {"values": [{}]},
 "mark": {"type": "text", "text": "Active Cases /1M Population (Log Scale) - Milestone Event (100ᵗʰ case)", "color": "white", "fontSize": 28, "fontWeight": 300, "font": "Open Sans", "baseline": "middle"},
 "encoding": {"x": {"datum": 25.5, "type": "quantitative", "scale": {"type": "linear", "domain": [0, 49.88], "range": [1820, 3521], "nice": false, "zero": false}, "axis": null}, "y": {"datum": 23600, "type": "quantitative", "scale": {"type": "log", "domain": [24.96, 10000], "range": [979, 232], "nice": false}, "axis": null}}},
{"data": {"values": [
  {"g": "R1", "d": 2, "v": 14.5}, {"g": "R1", "d": 19.56, "v": 10000},
  {"g": "R2", "d": 3, "v": 15.5}, {"g": "R2", "d": 28.94, "v": 10000},
  {"g": "R3", "d": 5, "v": 19.0}, {"g": "R3", "d": 47.45, "v": 10000},
  {"g": "R4", "d": 11, "v": 21.2}, {"g": "R4", "d": 49.88, "v": 372}]},
 "mark": {"type": "line", "color": "#404040", "strokeWidth": 2, "strokeDash": [9, 7], "clip": true},
 "encoding": {
  "x": {"field": "d", "type": "quantitative", "scale": {"type": "linear", "domain": [0, 49.88], "range": [1820, 3521], "nice": false, "zero": false}, "axis": null},
  "y": {"field": "v", "type": "quantitative", "scale": {"type": "log", "domain": [24.96, 10000], "range": [979, 232], "nice": false}, "axis": null},
  "detail": {"field": "g", "type": "nominal"}}},
{"data": {"name": "act"},
 "mark": {"type": "line", "strokeWidth": 5, "clip": true},
 "encoding": {
  "x": {"field": "d", "type": "quantitative", "scale": {"type": "linear", "domain": [0, 49.88], "range": [1820, 3521], "nice": false, "zero": false}, "axis": null},
  "y": {"field": "v", "type": "quantitative", "scale": {"type": "log", "domain": [24.96, 10000], "range": [979, 232], "nice": false}, "axis": null},
  "color": {"field": "s", "type": "nominal", "legend": null}}},
{"data": {"name": "act"},
 "mark": {"type": "circle", "size": 60, "opacity": 1, "clip": true},
 "encoding": {
  "x": {"field": "d", "type": "quantitative", "scale": {"type": "linear", "domain": [0, 49.88], "range": [1820, 3521], "nice": false, "zero": false}, "axis": null},
  "y": {"field": "v", "type": "quantitative", "scale": {"type": "log", "domain": [24.96, 10000], "range": [979, 232], "nice": false}, "axis": null},
  "color": {"field": "s", "type": "nominal", "legend": null}}},
{"data": {"values": [{}]},
 "mark": {"type": "text", "text": "100% (doubling every 1 days)", "angle": -52.7, "fontSize": 19, "color": "#404040", "baseline": "middle"},
 "encoding": {"x": {"datum": 16.25, "type": "quantitative", "scale": {"type": "linear", "domain": [0, 49.88], "range": [1820, 3521], "nice": false, "zero": false}, "axis": null}, "y": {"datum": 3724, "type": "quantitative", "scale": {"type": "log", "domain": [24.96, 10000], "range": [979, 232], "nice": false}, "axis": null}}},
{"data": {"values": [{}]},
 "mark": {"type": "text", "text": "41% (doubling every 2 days)", "angle": -41.5, "fontSize": 19, "color": "#404040", "baseline": "middle"},
 "encoding": {"x": {"datum": 24.6, "type": "quantitative", "scale": {"type": "linear", "domain": [0, 49.88], "range": [1820, 3521], "nice": false, "zero": false}, "axis": null}, "y": {"datum": 4274, "type": "quantitative", "scale": {"type": "log", "domain": [24.96, 10000], "range": [979, 232], "nice": false}, "axis": null}}},
{"data": {"values": [{}]},
 "mark": {"type": "text", "text": "26% (doubling every 3 days)", "angle": -29.8, "fontSize": 19, "color": "#404040", "baseline": "middle"},
 "encoding": {"x": {"datum": 41.85, "type": "quantitative", "scale": {"type": "linear", "domain": [0, 49.88], "range": [1820, 3521], "nice": false, "zero": false}, "axis": null}, "y": {"datum": 5140, "type": "quantitative", "scale": {"type": "log", "domain": [24.96, 10000], "range": [979, 232], "nice": false}, "axis": null}}},
{"data": {"values": [{}]},
 "mark": {"type": "text", "text": "15% (doubling every 5 days)", "angle": -16.9, "fontSize": 19, "color": "#404040", "baseline": "middle"},
 "encoding": {"x": {"datum": 45.51, "type": "quantitative", "scale": {"type": "linear", "domain": [0, 49.88], "range": [1820, 3521], "nice": false, "zero": false}, "axis": null}, "y": {"datum": 315, "type": "quantitative", "scale": {"type": "log", "domain": [24.96, 10000], "range": [979, 232], "nice": false}, "axis": null}}}
]
}
]
}
